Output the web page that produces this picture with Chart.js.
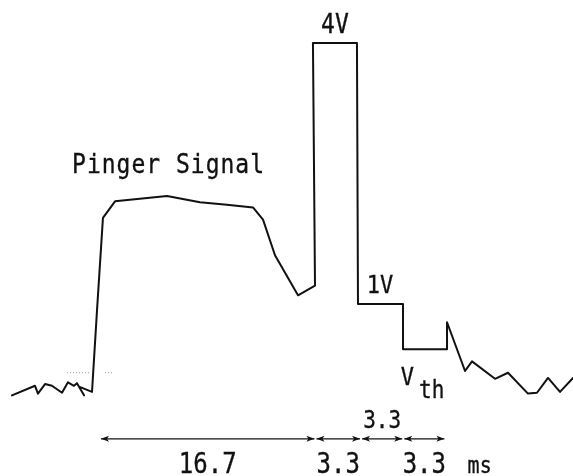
<!DOCTYPE html>
<html><head><meta charset="utf-8">
<script src="https://cdn.jsdelivr.net/npm/chart.js@4/dist/chart.umd.min.js"></script>
<style>html,body{margin:0;padding:0;background:#fff;}canvas{display:block;}</style>
</head><body>
<canvas id="c" width="573" height="476"></canvas>
<script>
// Signal trace: time in ms (0 = start of the 16.7 ms span), amplitude in V
const timeMs = [-7.72,-5.70,-5.44,-4.82,-4.21,-3.33,-2.81,-2.28,-2.02,-1.40,-1.84,-0.70,-0.26,0.26,1.32,5.88,8.77,11.14,13.42,14.30,15.35,17.37,18.86,18.68,22.54,22.63,26.58,26.58,30.44,30.44,32.02,32.63,34.65,35.79,37.54,38.33,39.30,40.35,41.49];
const volts  = [-0.05,0.06,-0.03,0.08,0.06,-0.02,0.10,0.06,0.09,-0.05,0.05,-0.01,0.93,1.99,2.18,2.24,2.17,2.14,2.11,1.97,1.56,1.10,1.21,4.00,4.00,1.00,1.00,0.48,0.48,0.79,0.23,0.34,0.14,0.21,-0.03,-0.02,0.15,-0.01,0.15];

// faint dotted reference mark near the baseline
const refTime  = [-2.89,-0.88,null,0.44,1.14];
const refVolts = [0.21,0.21,null,0.21,0.21];

// timing spans (ms edges) and their labels
const spanEdges  = [0,18.9,22.9,26.6,30.3];
const spanLabels = ['16.7','3.3','3.3','3.3'];
const spanAbove  = [false,false,true,false];
const unitLabel  = 'ms';

// level labels
const levelLabels = ['4V','1V'];
const levelVolts  = [4,1];

const signalData = timeMs.map((t,i)=>({x:t,y:volts[i]}));
const refData = refTime.map((t,i)=>({x:t===null?0.2:t,y:refVolts[i]}));

const FONT = '"DejaVu Sans Mono", "Liberation Mono", monospace';
const INK = '#111111';

const annot = {
  id:'annot',
  afterDatasetsDraw(chart){
    const ctx = chart.ctx, xs = chart.scales.x, ys = chart.scales.y;
    const X = v=>xs.getPixelForValue(v), Y = v=>ys.getPixelForValue(v);
    ctx.save();
    ctx.fillStyle = INK; ctx.strokeStyle = INK;
    ctx.textBaseline = 'alphabetic';
    function txt(s,px,py,size,align,spacing){
      ctx.save();
      ctx.font = size+'px '+FONT; ctx.textAlign = align;
      ctx.letterSpacing = (spacing||0)+'px';
      ctx.translate(px,py); ctx.scale(1,1.15);
      ctx.fillText(s,0,0);
      ctx.lineWidth = 0.3; ctx.strokeText(s,0,0);
      ctx.restore();
    }
    // title
    txt('Pinger Signal', X(-2.45), Y(2.51), 23, 'left', 1);
    // level labels
    txt(levelLabels[0], X((timeMs[23]+timeMs[24])/2), Y(levelVolts[0]+0.11), 23, 'center');
    txt(levelLabels[1], X(24.56), Y(levelVolts[1]+0.13), 22, 'center');
    // V_th
    txt('V', X(26.97), Y(0.07), 22, 'center');
    txt('th', X(29.1), Y(-0.08), 21, 'center');
    // timing arrows
    const ay = Y(-0.55);
    ctx.lineWidth = 1.2;
    function head(px,dir){
      ctx.beginPath();
      ctx.moveTo(px,ay);
      ctx.lineTo(px-dir*8,ay-3);
      ctx.lineTo(px-dir*6,ay);
      ctx.lineTo(px-dir*8,ay+3);
      ctx.closePath(); ctx.fill();
    }
    for(let i=0;i<spanLabels.length;i++){
      const a = X(spanEdges[i])+1, b = X(spanEdges[i+1])-1;
      ctx.beginPath(); ctx.moveTo(a,ay); ctx.lineTo(b,ay); ctx.stroke();
      head(a,-1); head(b,1);
      const mid = (X(spanEdges[i])+X(spanEdges[i+1]))/2;
      if(spanAbove[i]) txt(spanLabels[i], mid, Y(-0.425), 21, 'center');
      else txt(spanLabels[i], mid, Y(-0.94), 24, 'center');
    }
    txt(unitLabel, X(33.3), Y(-0.94), 20, 'center');
    ctx.restore();
  }
};

new Chart(document.getElementById('c'),{
  type:'scatter',
  data:{datasets:[
    {data:signalData, showLine:true, borderColor:INK, borderWidth:2, pointRadius:0, tension:0, borderJoinStyle:'round', borderCapStyle:'round'},
    {data:refData, showLine:true, borderColor:'#9a9a9a', borderWidth:1, borderDash:[1,2], pointRadius:0, spanGaps:false}
  ]},
  options:{
    responsive:false, animation:false, devicePixelRatio:1,
    layout:{padding:0},
    plugins:{legend:{display:false}, tooltip:{enabled:false}},
    scales:{
      x:{type:'linear', display:false, min:-8.77, max:41.49},
      y:{type:'linear', display:false, min:-0.977, max:4.494}
    }
  },
  plugins:[annot]
});
</script>
</body></html>
